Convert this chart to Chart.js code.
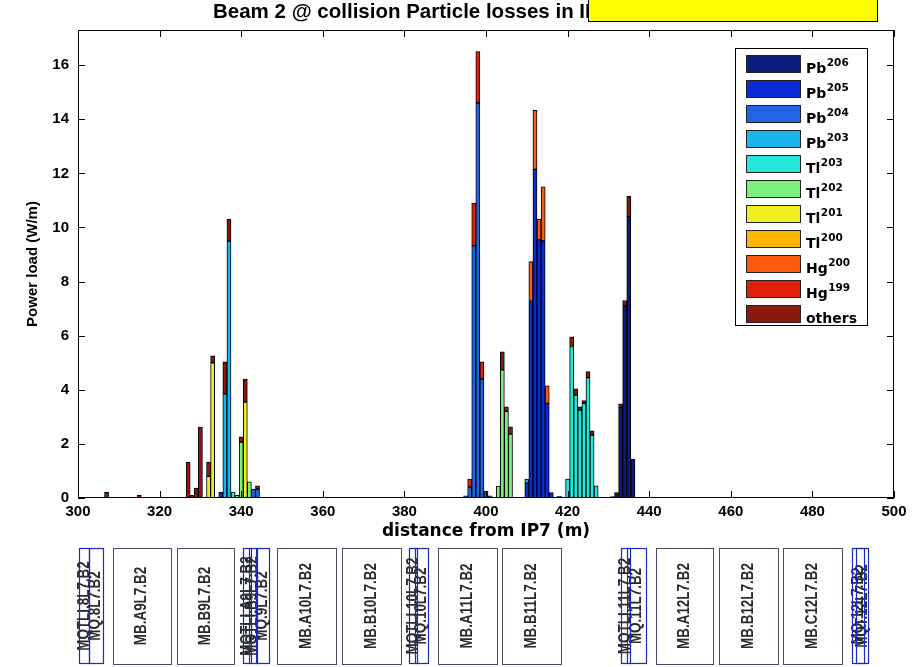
<!DOCTYPE html>
<html>
<head>
<meta charset="utf-8">
<script src="https://cdn.jsdelivr.net/npm/chart.js@4.4.1/dist/chart.umd.min.js"></script>
<style>
    html, body { margin: 0; padding: 0; background: #fff; }
    #wrap { width: 922px; height: 667px; position: relative; }
</style>
</head>
<body>
<div id="wrap"><canvas id="graficoPerdas" width="922" height="667"></canvas></div>
<script>
//===============================================================
// ========================== DADOS =============================
//===============================================================
// one bar per 1 m bin (distance from IP7, m) -> power load (W/m), per isotope
const species = ["Pb206", "Pb205", "Pb204", "Pb203", "Tl203", "Tl202", "Tl201", "Tl200", "Hg200", "Hg199", "others"];
const speciesColors = ["#0b1c7c", "#0a2cd8", "#1f64e0", "#18b4ec", "#24e6dc", "#7cf07c", "#f0f020", "#ffb400", "#ff5a0c", "#e0200c", "#8c1a0c"];

const pb206Pos = [431, 432, 433, 434, 435, 436];
const pb206Val = [0.05, 0.2, 3.35, 7.1, 10.4, 1.44];

const pb205Pos = [335, 410, 411, 412, 413, 414, 415, 416];
const pb205Val = [0.22, 0.55, 7.3, 12.15, 9.55, 9.5, 3.5, 0.2];

const pb204Pos = [343, 344, 395, 396, 397, 398, 399, 400, 401];
const pb204Val = [0.33, 0.33, 0.08, 0.4, 9.33, 14.6, 4.4, 0.26, 0.08];

const pb203Pos = [336, 337, 410];
const pb203Val = [3.85, 9.5, 0.15];

const tl203Pos = [338, 418, 420, 421, 422, 423, 424, 425, 426, 427];
const tl203Val = [0.22, 0.06, 0.7, 5.6, 3.8, 3.25, 3.5, 4.45, 2.33, 0.45];

const tl202Pos = [339, 340, 342, 403, 404, 405, 406];
const tl202Val = [0.1, 2.07, 0.6, 0.44, 4.74, 3.2, 2.36];

const tl201Pos = [332, 333, 341];
const tl201Val = [0.8, 5.0, 3.55];

const tl200Pos = [];
const tl200Val = [];

const hg200Pos = [411, 412, 413, 414, 415];
const hg200Val = [1.44, 2.18, 0.75, 2.0, 0.65];

const hg199Pos = [396, 397, 398, 399];
const hg199Val = [0.3, 1.57, 1.9, 0.63];

const othersPos = [307, 315, 327, 328, 329, 330, 332, 333, 336, 337, 340, 341, 344, 404, 405, 406, 421, 422, 423, 424, 425, 426, 433, 434, 435];
const othersVal = [0.22, 0.1, 1.33, 0.1, 0.37, 2.62, 0.53, 0.26, 1.18, 0.8, 0.19, 0.85, 0.12, 0.66, 0.17, 0.27, 0.36, 0.24, 0.12, 0.1, 0.22, 0.15, 0.13, 0.2, 0.75];

const speciesPos = [pb206Pos, pb205Pos, pb204Pos, pb203Pos, tl203Pos, tl202Pos, tl201Pos, tl200Pos, hg200Pos, hg199Pos, othersPos];
const speciesVal = [pb206Val, pb205Val, pb204Val, pb203Val, tl203Val, tl202Val, tl201Val, tl200Val, hg200Val, hg199Val, othersVal];

const xTicks = [300, 320, 340, 360, 380, 400, 420, 440, 460, 480, 500];
const yTicks = [0, 2, 4, 6, 8, 10, 12, 14, 16];

// beam line elements below the axis (start / end in m)
const elemNames = ["MQTLI.8L7.B2", "MQ.8L7.B2", "MB.A9L7.B2", "MB.B9L7.B2", "MQTLI.A9L7.B2", "MQTLI.B9L7.B2", "MQ.9L7.B2",
    "MB.A10L7.B2", "MB.B10L7.B2", "MQTLI.10L7.B2", "MQ.10L7.B2", "MB.A11L7.B2", "MB.B11L7.B2",
    "MQTLI.11L7.B2", "MQ.11L7.B2", "MB.A12L7.B2", "MB.B12L7.B2", "MB.C12L7.B2", "MQ.12L7.B2", "MQT.12L7.B2"];
const elemStart = [300.2, 302.6, 308.6, 324.3, 340.5, 341.8, 343.6, 348.8, 364.8, 381.2, 382.6, 388.3, 404.0, 433.0, 434.6, 441.6, 457.0, 472.8, 489.8, 490.8];
const elemEnd = [302.8, 306.1, 322.8, 338.3, 342.4, 343.8, 346.9, 363.3, 379.3, 383.2, 385.9, 402.8, 418.5, 435.3, 439.2, 455.6, 471.5, 487.2, 492.6, 493.6];

//===============================================================
// ========================= PLUGINS ============================
//===============================================================
const boldFont = (size) => `bold ${size}px "DejaVu Sans", Verdana, sans-serif`;
const arialBold = (size) => `bold ${size}px "Liberation Sans", Arial, sans-serif`;

const axisBox = {
    id: "axisBox",
    afterDatasetsDraw(chart) {
        const { ctx, chartArea: a, scales } = chart;
        ctx.save();
        ctx.strokeStyle = "#000";
        ctx.lineWidth = 1;
        ctx.strokeRect(a.left + 0.5, a.top + 0.5, a.right - a.left - 1, a.bottom - a.top - 1);
        ctx.beginPath();
        xTicks.forEach(v => {
            const px = Math.round(scales.x.getPixelForValue(v)) + 0.5;
            ctx.moveTo(px, a.bottom); ctx.lineTo(px, a.bottom - 7);
            ctx.moveTo(px, a.top); ctx.lineTo(px, a.top + 7);
        });
        yTicks.forEach(v => {
            const py = Math.round(scales.y.getPixelForValue(v)) + 0.5;
            ctx.moveTo(a.left, py); ctx.lineTo(a.left + 7, py);
            ctx.moveTo(a.right, py); ctx.lineTo(a.right - 7, py);
        });
        ctx.stroke();
        ctx.restore();
    }
};

const isotopeLegend = {
    id: "isotopeLegend",
    afterDraw(chart) {
        const ctx = chart.ctx;
        ctx.save();
        ctx.fillStyle = "#fff";
        ctx.fillRect(735, 48, 132, 277);
        ctx.strokeStyle = "#000";
        ctx.lineWidth = 1;
        ctx.strokeRect(735.5, 48.5, 132, 277);
        species.forEach((nome, i) => {
            const yTop = 55 + i * 25;
            ctx.fillStyle = chart.data.datasets[i].backgroundColor;
            ctx.fillRect(746, yTop, 55, 18);
            ctx.strokeStyle = "#222";
            ctx.strokeRect(746.5, yTop + 0.5, 54, 17);
            const m = nome.match(/^([A-Za-z]+?)(\d*)$/);
            ctx.fillStyle = "#000";
            ctx.textBaseline = "alphabetic";
            ctx.textAlign = "left";
            ctx.font = boldFont(14);
            ctx.fillText(m[1], 806, yTop + 18);
            if (m[2]) {
                const w = ctx.measureText(m[1]).width;
                ctx.font = boldFont(10.5);
                ctx.fillText(m[2], 806 + w + 0.5, yTop + 11);
            }
        });
        ctx.restore();
    }
};

const headerAndLine = {
    id: "headerAndLine",
    afterDraw(chart) {
        const ctx = chart.ctx;
        const xs = chart.scales.x;
        ctx.save();

        // title, partly covered by a yellow box
        ctx.fillStyle = "#000";
        ctx.font = arialBold(20.5);
        ctx.textAlign = "left";
        ctx.textBaseline = "middle";
        ctx.fillText("Beam 2 @ collision Particle losses in IP7", 213, 12);
        ctx.fillStyle = "#ffff00";
        ctx.fillRect(588, -1, 290, 23);
        ctx.strokeStyle = "#000";
        ctx.strokeRect(588.5, -0.5, 289, 22);

        // beam line elements
        elemNames.forEach((nome, i) => {
            const x0 = xs.getPixelForValue(elemStart[i]);
            const x1 = xs.getPixelForValue(elemEnd[i]);
            const isDipole = nome.startsWith("MB");
            if (isDipole) {
                ctx.strokeStyle = "#4a4a6e";
                ctx.lineWidth = 1;
                ctx.strokeRect(Math.round(x0) + 0.5, 548.5, Math.round(x1 - x0), 116);
            }
            ctx.save();
            ctx.translate((x0 + x1) / 2, 606);
            ctx.rotate(-Math.PI / 2);
            ctx.scale(0.84, 1);
            ctx.font = arialBold(16);
            ctx.fillStyle = "#2a2a2a";
            ctx.textAlign = "center";
            ctx.textBaseline = "middle";
            ctx.fillText(nome, 0, 0);
            ctx.restore();
        });
        elemNames.forEach((nome, i) => {
            if (nome.startsWith("MB")) return;
            const x0 = Math.round(xs.getPixelForValue(elemStart[i]));
            const x1 = Math.round(xs.getPixelForValue(elemEnd[i]));
            ctx.strokeStyle = "#1a2ab8";
            ctx.lineWidth = 1.2;
            ctx.strokeRect(x0 + 0.5, 548.5, x1 - x0, 115);
        });
        ctx.restore();
    }
};

//===============================================================
// ========================= GRÁFICO ============================
//===============================================================
const datasets = species.map((nome, i) => ({
    label: nome,
    data: speciesPos[i].map((x, k) => ({ x: x, y: speciesVal[i][k] })),
    backgroundColor: speciesColors[i],
    borderColor: "#000",
    borderWidth: 1,
    borderSkipped: false,
    barPercentage: 1,
    categoryPercentage: 1
}));

new Chart(document.getElementById("graficoPerdas"), {
    type: "bar",
    data: { datasets: datasets },
    options: {
        responsive: false,
        animation: false,
        devicePixelRatio: 1,
        layout: { padding: { left: 0, top: 30, right: 28, bottom: 125 } },
        plugins: {
            legend: { display: false },
            tooltip: { enabled: false }
        },
        scales: {
            x: {
                type: "linear",
                min: 300,
                max: 500,
                offset: false,
                stacked: true,
                grid: { display: false, drawTicks: false },
                border: { display: false },
                afterBuildTicks: (s) => { s.ticks = xTicks.map(v => ({ value: v })); },
                afterFit: (s) => { s.height = 44; },
                ticks: {
                    autoSkip: false,
                    maxRotation: 0,
                    padding: 5,
                    color: "#000",
                    font: { family: "Liberation Sans", weight: "bold", size: 15 }
                },
                title: {
                    display: true,
                    text: "distance from IP7 (m)",
                    color: "#000",
                    padding: { top: 0, bottom: 0 },
                    font: { family: "DejaVu Sans", weight: "bold", size: 17 }
                }
            },
            y: {
                min: 0,
                max: 17.3,
                stacked: true,
                grid: { display: false, drawTicks: false },
                border: { display: false },
                afterBuildTicks: (s) => { s.ticks = yTicks.map(v => ({ value: v })); },
                afterFit: (s) => { s.width = 78; },
                ticks: {
                    padding: 9,
                    color: "#000",
                    font: { family: "Liberation Sans", weight: "bold", size: 15 }
                },
                title: {
                    display: true,
                    text: "Power load (W/m)",
                    color: "#000",
                    padding: { top: 24, bottom: 0 },
                    font: { family: "Liberation Sans", weight: "bold", size: 15 }
                }
            }
        }
    },
    plugins: [axisBox, isotopeLegend, headerAndLine]
});
</script>
</body>
</html>
